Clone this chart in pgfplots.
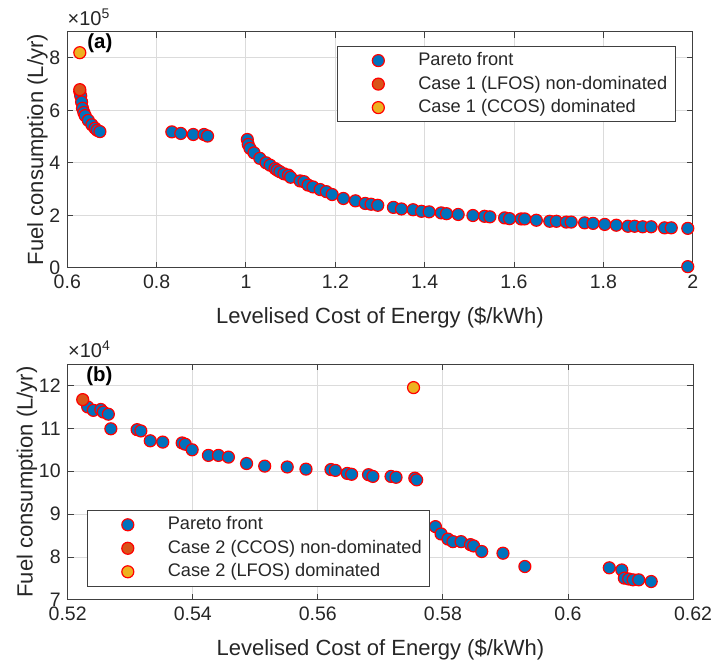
\documentclass[border=0pt]{standalone}
\usepackage{pgfplots}
\pgfplotsset{compat=1.18}
\usepackage{fontspec}
\setmainfont{Liberation Sans}
\definecolor{mblue}{HTML}{0072BD}
\definecolor{morange}{HTML}{D95319}
\definecolor{myellow}{HTML}{EDB120}
\definecolor{mtext}{HTML}{262626}
\pgfplotsset{
 myaxis/.style={
  scale only axis, width=312.7pt, height=118pt,
  axis line style={black!75, line width=0.5pt},
  tick align=inside, major tick length=3pt,
  tick style={black!75, line width=0.5pt},
  grid=major, major grid style={black!14, line width=0.5pt},
  ticklabel style={font=\fontsize{9.75}{11}\selectfont, text=mtext},
  /pgf/number format/assume math mode=true,
  label style={font=\fontsize{11}{13}\selectfont, text=mtext},
  ylabel shift=-6pt, xlabel shift=2.5pt,
  scaled ticks=false, clip=false,
  legend cell align=left,
  legend style={draw=black!75, line width=0.5pt, font=\fontsize{9.1}{10.5}\selectfont, text=mtext,
    inner xsep=4pt, inner ysep=2.7pt,
    nodes={inner sep=0pt, text height=7pt, text depth=2pt},
    row sep=2.75pt, column sep=0pt},
  xlabel={Levelised Cost of Energy (\$/kWh)},
  ylabel={Fuel consumption (L/yr)},
 },
 mk/.style={only marks, mark=*, mark size=3pt, draw=red, fill=#1, line width=0.6pt,
   legend image code/.code={\path (0pt,0pt) (35.7pt,0pt); \draw[##1] plot coordinates {(16pt,0pt)};}},
}
\begin{document}
\begin{tikzpicture}
\useasboundingbox (0,0) rectangle (357pt,332pt);
% ---------------- (a)
\begin{axis}[myaxis, at={(33.65pt,198.15pt)}, anchor=south west,
  xmin=0.6, xmax=2, ymin=0, ymax=9,
  xtick={0.6,0.8,1,1.2,1.4,1.6,1.8,2}, xticklabels={0.6,0.8,1,1.2,1.4,1.6,1.8,2},
  ytick={0,2,4,6,8}, yticklabels={0,2,4,6,8},
  legend style={at={(0.9728,0.9407)}, anchor=north east}]
\addplot[mk=mblue] table {
0.628 6.72
0.630 6.55
0.632 6.32
0.634 6.08
0.637 5.92
0.640 5.80
0.647 5.62
0.655 5.45
0.662 5.32
0.667 5.24
0.673 5.19
0.834 5.18
0.854 5.12
0.882 5.08
0.906 5.08
0.914 5.02
1.003 4.89
1.005 4.70
1.009 4.55
1.018 4.38
1.031 4.17
1.045 4.00
1.054 3.91
1.065 3.78
1.070 3.72
1.076 3.66
1.085 3.58
1.095 3.53
1.100 3.45
1.121 3.31
1.130 3.28
1.139 3.15
1.150 3.08
1.166 2.98
1.180 2.90
1.193 2.79
1.218 2.64
1.245 2.55
1.267 2.45
1.280 2.42
1.295 2.38
1.330 2.30
1.348 2.24
1.374 2.21
1.393 2.15
1.410 2.13
1.437 2.09
1.449 2.06
1.475 2.03
1.508 1.99
1.534 1.96
1.546 1.94
1.579 1.90
1.590 1.87
1.616 1.86
1.624 1.86
1.650 1.81
1.680 1.77
1.695 1.77
1.717 1.74
1.728 1.74
1.758 1.71
1.777 1.69
1.803 1.65
1.829 1.62
1.855 1.58
1.870 1.58
1.888 1.56
1.907 1.56
1.937 1.52
1.952 1.52
1.989 1.50
1.989 0.04
};
\addlegendentry{Pareto front}
\addplot[mk=morange] table {
0.628 6.79
};
\addlegendentry{Case 1 (LFOS) non-dominated}
\addplot[mk=myellow] table {
0.628 8.20
};
\addlegendentry{Case 1 (CCOS) dominated}
\node[anchor=base west, font=\fontsize{10}{12}\selectfont, text=mtext, yshift=3pt, inner sep=0pt] at (rel axis cs:0,1) {×10\textsuperscript{5}};
\node[anchor=west, font=\bfseries\fontsize{10.2}{12}\selectfont, inner sep=0pt] at (rel axis cs:0.0315,0.95) {(a)};
\end{axis}
% ---------------- (b)
\begin{axis}[myaxis, at={(33.85pt,32pt)}, anchor=south west,
  xmin=0.52, xmax=0.62, ymin=7, ymax=12.5,
  xtick={0.52,0.54,0.56,0.58,0.6,0.62}, xticklabels={0.52,0.54,0.56,0.58,0.6,0.62},
  ytick={7,8,9,10,11,12}, yticklabels={7,8,9,10,11,12},
  legend style={at={(0.0304,0.0564)}, anchor=south west}]
\addplot[mk=mblue] table {
0.5232 11.50
0.5241 11.42
0.5253 11.44
0.5257 11.38
0.5265 11.33
0.5269 10.99
0.5311 10.97
0.5317 10.94
0.5332 10.71
0.5352 10.68
0.5383 10.66
0.5388 10.63
0.5399 10.50
0.5425 10.37
0.5441 10.37
0.5457 10.33
0.5486 10.18
0.5515 10.12
0.5551 10.10
0.5581 10.05
0.5621 10.04
0.5628 10.02
0.5647 9.95
0.5654 9.93
0.5681 9.92
0.5688 9.88
0.5717 9.88
0.5725 9.86
0.5755 9.84
0.5758 9.80
0.5788 8.71
0.5797 8.54
0.5808 8.42
0.5816 8.36
0.5829 8.36
0.5844 8.29
0.5849 8.26
0.5862 8.13
0.5896 8.09
0.5931 7.78
0.6066 7.75
0.6086 7.70
0.6090 7.51
0.6097 7.49
0.6104 7.47
0.6113 7.47
0.6133 7.43
};
\addlegendentry{Pareto front}
\addplot[mk=morange] table {
0.5224 11.67
};
\addlegendentry{Case 2 (CCOS) non-dominated}
\addplot[mk=myellow] table {
0.5753 11.95
};
\addlegendentry{Case 2 (LFOS) dominated}
\node[anchor=base west, font=\fontsize{10}{12}\selectfont, text=mtext, yshift=3pt, inner sep=0pt] at (rel axis cs:0,1) {×10\textsuperscript{4}};
\node[anchor=west, font=\bfseries\fontsize{10.2}{12}\selectfont, inner sep=0pt] at (rel axis cs:0.0293,0.95) {(b)};
\end{axis}
\end{tikzpicture}
\end{document}
